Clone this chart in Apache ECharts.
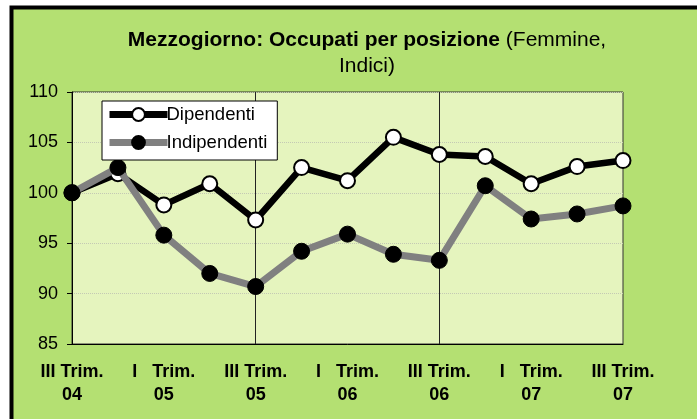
<!DOCTYPE html>
<html>
<head>
<meta charset="utf-8">
<script src="https://cdn.jsdelivr.net/npm/echarts@6/dist/echarts.min.js"></script>
<style>
  html, body { margin: 0; padding: 0; background: #fff; }
  #chart { width: 697px; height: 419px; }
</style>
</head>
<body>
<div id="chart"></div>
<script>
// trimestri (III 2004 - III 2007)
var categories = [
  'III Trim.\n04', 'IV Trim.\n04', 'I   Trim.\n05', 'II Trim.\n05',
  'III Trim.\n05', 'IV Trim.\n05', 'I   Trim.\n06', 'II Trim.\n06',
  'III Trim.\n06', 'IV Trim.\n06', 'I   Trim.\n07', 'II Trim.\n07',
  'III Trim.\n07'
];
var dipendenti = [100, 101.9, 98.8, 100.9, 97.3, 102.5, 101.2, 105.5, 103.8, 103.6, 100.9, 102.6, 103.2];
var indipendenti = [100, 102.5, 95.8, 92.0, 90.7, 94.2, 95.9, 93.9, 93.3, 100.7, 97.4, 97.9, 98.7];
var yTicks = { min: 85, max: 110, step: 5 };

var chart = echarts.init(document.getElementById('chart'));

var font = 'Liberation Sans, Arial';

var option = {
  backgroundColor: '#ffffff',
  animation: false,
  graphic: [{
    type: 'rect',
    z: -10,
    shape: { x: 11.5, y: 7.5, width: 720, height: 440 },
    style: { fill: '#b4e072', stroke: '#000', lineWidth: 4 }
  }],
  title: {
    text: '{b|Mezzogiorno: Occupati per posizione} (Femmine,\nIndici)',
    left: 362,
    textAlign: 'center',
    top: 22,
    textStyle: {
      fontFamily: font,
      fontSize: 21,
      fontWeight: 'normal',
      color: '#000',
      lineHeight: 26,
      rich: {
        b: { fontFamily: font, fontSize: 21, fontWeight: 'bold', color: '#000', lineHeight: 26 }
      }
    }
  },
  legend: {
    orient: 'vertical',
    left: 102,
    top: 101,
    itemWidth: 58,
    itemHeight: 16,
    itemGap: 9,
    padding: [4, 10, 8, 4],
    backgroundColor: '#fff',
    borderColor: '#000',
    borderWidth: 1,
    borderRadius: 0,
    textStyle: { fontFamily: font, fontSize: 18.5, color: '#000', padding: [0, 0, 0, -6] },
    data: [
      { name: 'Dipendenti', lineStyle: { width: 7, color: '#000' } },
      { name: 'Indipendenti', lineStyle: { width: 7, color: '#808080' } }
    ]
  },
  grid: {
    left: 72,
    right: 74,
    top: 92,
    bottom: 75,
    show: true,
    backgroundColor: '#e5f4be',
    borderColor: '#333',
    borderWidth: 1
  },
  xAxis: {
    type: 'category',
    data: categories,
    boundaryGap: false,
    axisLine: { show: true, lineStyle: { color: '#000', width: 1 } },
    axisTick: { show: false },
    axisLabel: {
      interval: 1,
      margin: 17,
      fontFamily: font,
      fontSize: 18,
      fontWeight: 'bold',
      color: '#000',
      lineHeight: 23
    },
    splitLine: {
      show: true,
      interval: function (index) { return index === 4 || index === 8; },
      lineStyle: { color: '#222', width: 1 }
    }
  },
  yAxis: {
    type: 'value',
    min: yTicks.min,
    max: yTicks.max,
    interval: yTicks.step,
    axisLine: { show: true, lineStyle: { color: '#000', width: 1 } },
    axisTick: { show: true, inside: false, length: 5, lineStyle: { color: '#000' } },
    axisLabel: {
      margin: 14,
      fontFamily: font,
      fontSize: 18,
      color: '#000'
    },
    splitLine: { show: true, lineStyle: { color: '#c4c9b4', type: 'dotted', width: 1 } }
  },
  series: [
    {
      name: 'Dipendenti',
      type: 'line',
      data: dipendenti,
      symbol: 'circle',
      symbolSize: 15,
      lineStyle: { color: '#000', width: 6.5 },
      itemStyle: { color: '#fff', borderColor: '#000', borderWidth: 2 },
      z: 2
    },
    {
      name: 'Indipendenti',
      type: 'line',
      data: indipendenti,
      symbol: 'circle',
      symbolSize: 16,
      lineStyle: { color: '#808080', width: 7 },
      itemStyle: { color: '#000', borderColor: '#000', borderWidth: 1 },
      z: 3
    }
  ]
};

chart.setOption(option);
</script>
</body>
</html>
